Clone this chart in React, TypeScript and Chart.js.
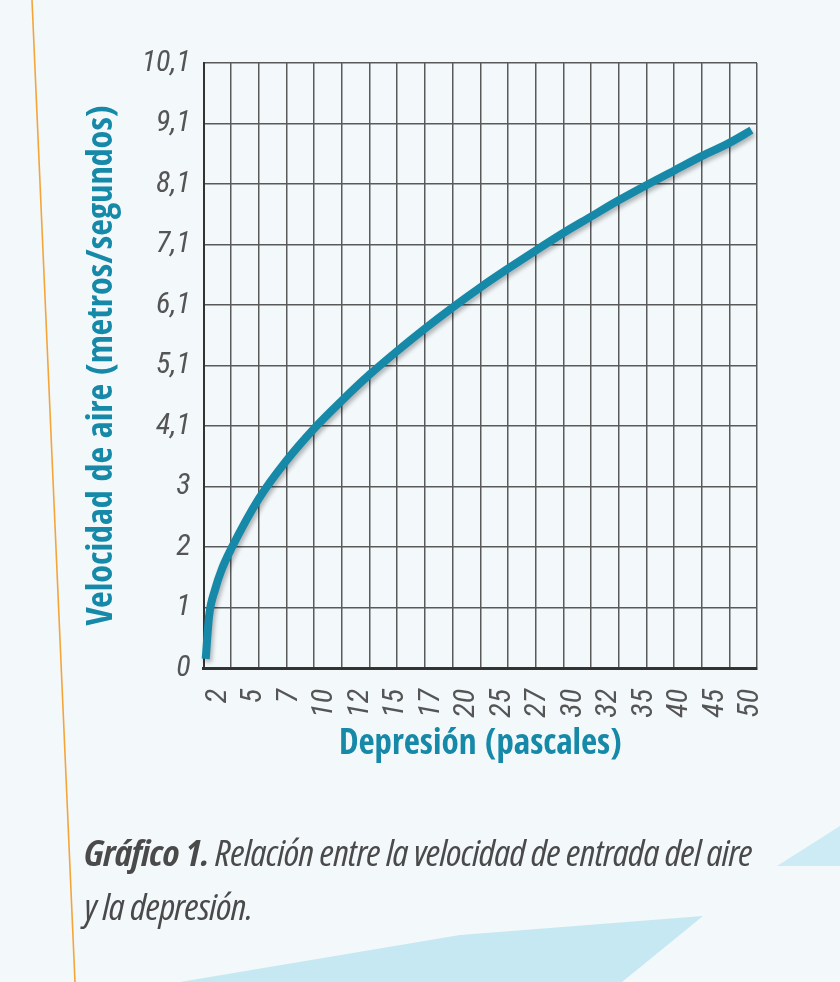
import React, { useEffect, useLayoutEffect, useRef } from "react";
import { Chart, registerables } from "chart.js";

Chart.register(...registerables);

// Tick labels as printed in the reference
const xTickLabels = ["2", "5", "7", "10", "12", "15", "17", "20", "25", "27", "30", "32", "35", "40", "45", "50"];
const yTickLabels = ["0", "1", "2", "3", "4,1", "5,1", "6,1", "7,1", "8,1", "9,1", "10,1"];

// Curve: position along the 20 grid columns, height in grid rows
const curveCol = [0.08, 0.2, 0.42, 0.66, 1, 2, 3, 4, 5, 6, 7, 8, 9, 10, 11, 12, 13, 14, 15, 16, 17, 18, 19, 19.8];
const curveRow = [0.15, 0.85, 1.3, 1.63, 1.97, 2.8, 3.43, 3.96, 4.42, 4.85, 5.24, 5.61, 5.96, 6.29, 6.6, 6.9, 7.19, 7.46, 7.73, 7.98, 8.22, 8.46, 8.68, 8.89];

const gridColumns = 20;
const gridRows = 10;

const TICK_FONT = "'Roboto Condensed', 'DejaVu Sans Condensed', sans-serif";
const TITLE_FONT = "'Open Sans Condensed', 'Roboto Condensed', sans-serif";

const backgroundPlugin = {
  id: "bgDecor",
  beforeDraw(chart: any) {
    const ctx = chart.ctx;
    const w = chart.width;
    const h = chart.height;
    ctx.save();
    ctx.fillStyle = "#f3f8fb";
    ctx.fillRect(0, 0, w, h);
    ctx.fillStyle = "#cdebf5";
    ctx.beginPath();
    ctx.moveTo(777, 866);
    ctx.lineTo(840, 826);
    ctx.lineTo(840, 866);
    ctx.closePath();
    ctx.fill();
    ctx.fillStyle = "#c6e8f3";
    ctx.beginPath();
    ctx.moveTo(180, 982);
    ctx.lineTo(460, 935);
    ctx.lineTo(703, 916);
    ctx.lineTo(622, 982);
    ctx.closePath();
    ctx.fill();
    ctx.strokeStyle = "#f4a53a";
    ctx.lineWidth = 1.6;
    ctx.beginPath();
    ctx.moveTo(32, 0);
    ctx.lineTo(75, 982);
    ctx.stroke();
    ctx.restore();
  },
};

const shadowPlugin = {
  id: "lineShadow",
  beforeDatasetsDraw(chart: any) {
    const ctx = chart.ctx;
    ctx.save();
    ctx.shadowColor = "rgba(0,0,0,0.28)";
    ctx.shadowOffsetX = 2;
    ctx.shadowOffsetY = 3;
    ctx.shadowBlur = 4;
  },
  afterDatasetsDraw(chart: any) {
    chart.ctx.restore();
  },
};

export default function App() {
  const canvasRef = useRef<HTMLCanvasElement | null>(null);
  const line1Ref = useRef<HTMLDivElement | null>(null);
  const line2Ref = useRef<HTMLDivElement | null>(null);

  useLayoutEffect(() => {
    const l1 = line1Ref.current;
    const l2 = line2Ref.current;
    if (!l1 || !l2) return;
    const w = l1.getBoundingClientRect().width;
    if (w > 0) {
      const s = 668 / w;
      l1.style.transform = `scaleX(${s})`;
      l2.style.transform = `scaleX(${s})`;
    }
  }, []);

  useEffect(() => {
    if (!canvasRef.current) return;
    const chart = new Chart(canvasRef.current, {
      type: "line",
      data: {
        datasets: [
          {
            data: curveCol.map((c, i) => ({ x: c, y: curveRow[i] })),
            xAxisID: "xg",
            yAxisID: "y",
            borderColor: "#1689a8",
            borderWidth: 8,
            pointRadius: 0,
            cubicInterpolationMode: "monotone",
            borderCapStyle: "butt",
            fill: false,
            clip: false as any,
          },
        ],
      },
      options: {
        animation: false,
        responsive: false,
        events: [],
        layout: { padding: { top: 63, right: 83, bottom: 216, left: 81 } },
        plugins: { legend: { display: false }, tooltip: { enabled: false } },
        scales: {
          xg: {
            type: "linear",
            position: "bottom",
            weight: 0,
            min: 0,
            max: gridColumns,
            ticks: { display: false, stepSize: 1 },
            grid: { color: "#5a5a5a", lineWidth: 1.5, drawTicks: false },
            border: { color: "#333", width: 3 },
            afterFit(scale: any) {
              scale.height = 0;
            },
          },
          xl: {
            type: "linear",
            position: "bottom",
            weight: 1,
            min: -0.41,
            max: 15.17,
            afterBuildTicks(scale: any) {
              scale.ticks = xTickLabels.map((_, i) => ({ value: i }));
            },
            ticks: {
              autoSkip: false,
              minRotation: 90,
              maxRotation: 90,
              padding: 21,
              color: "#555",
              font: { family: TICK_FONT, size: 30, style: "italic" },
              callback: (v: any) => xTickLabels[Math.round(Number(v))] ?? "",
            },
            grid: { display: false, drawTicks: false },
            border: { display: false },
            title: {
              display: true,
              text: "Depresión (pascales)",
              color: "#1689a8",
              font: { family: TITLE_FONT, size: 35, weight: "bold" },
              padding: 0,
            },
            afterFit(scale: any) {
              scale.height = 98;
            },
          },
          y: {
            type: "linear",
            position: "left",
            min: 0,
            max: gridRows,
            ticks: {
              stepSize: 1,
              padding: 13,
              color: "#555",
              font: { family: TICK_FONT, size: 30, style: "italic" },
              callback: (v: any) => yTickLabels[Math.round(Number(v))] ?? "",
            },
            grid: { color: "#5a5a5a", lineWidth: 1.5, drawTicks: false },
            border: { color: "#333", width: 2 },
            title: {
              display: true,
              text: "Velocidad de aire (metros/segundos)",
              color: "#1689a8",
              font: { family: TITLE_FONT, size: 36, weight: "bold" },
              padding: 0,
            },
            afterFit(scale: any) {
              scale.width = 203.5 - 81;
            },
          },
        },
      },
      plugins: [backgroundPlugin, shadowPlugin],
    } as any);
    return () => chart.destroy();
  }, []);

  const captionStyle: React.CSSProperties = {
    position: "absolute",
    left: 84,
    fontFamily: "'Open Sans', sans-serif",
    fontStretch: "condensed",
    fontSize: 36,
    lineHeight: "38px",
    fontStyle: "italic",
    color: "#4a4a4a",
    whiteSpace: "nowrap",
    transformOrigin: "0 50%",
    letterSpacing: "-0.5px",
  };

  return (
    <div style={{ position: "absolute", left: 0, top: 0, width: 840, height: 982, overflow: "hidden" }}>
      <canvas ref={canvasRef} width={840} height={982} style={{ display: "block" }} />
      <div ref={line1Ref} style={{ ...captionStyle, top: 834 }}>
        <span style={{ fontWeight: "bold" }}>Gráfico 1.</span> Relación entre la velocidad de entrada del aire
      </div>
      <div ref={line2Ref} style={{ ...captionStyle, top: 888 }}>
        y la depresión.
      </div>
    </div>
  );
}
